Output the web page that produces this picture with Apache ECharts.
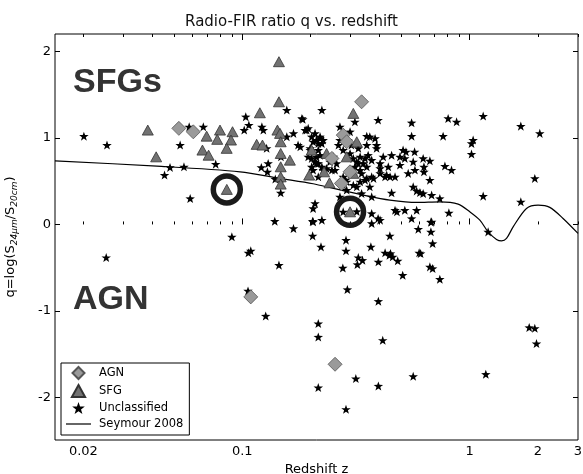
<!DOCTYPE html>
<html><head><meta charset="utf-8">
<script src="https://cdn.jsdelivr.net/npm/echarts@6/dist/echarts.min.js"></script>
<style>html,body{margin:0;padding:0;background:#fff}#c{width:583px;height:474px}</style>
</head><body><div id="c"></div>
<script>
// ---- data: [redshift z, q] ----
const unclassified = [
 [0.0201,1.02],[0.0254,0.917],[0.0584,1.128],[0.0674,1.128],[0.0533,0.917],[0.0554,0.666],[0.0481,0.659],[0.0455,0.57],[0.0764,0.697],[0.059,0.30],
 [0.1036,1.244],[0.1069,1.148],[0.102,1.09],[0.122,1.128],[0.1238,1.09],[0.128,0.879],[0.1213,0.659],[0.130,0.705],[0.129,0.608],[0.1397,0.524],
 [0.1476,0.532],[0.148,0.781],[0.1476,0.365],[0.157,1.321],[0.1846,1.214],[0.192,1.09],[0.176,0.917],[0.168,1.052],[0.157,1.013],[0.199,0.879],
 [0.139,0.038],[0.168,-0.046],[0.204,0.038],[0.205,0.185],[0.209,0.243],
 [0.183,1.225],[0.224,1.321],[0.209,1.052],[0.220,0.994],[0.205,0.955],[0.216,0.936],[0.227,0.975],
 [0.269,1.128],[0.298,1.071],[0.313,1.186],[0.396,1.206],[0.556,1.175],[0.805,1.225],[0.877,1.186],[1.148,1.252],[1.681,1.136],[2.037,1.052],
 [0.556,1.02],[0.765,1.02],[1.037,0.975],[1.02,0.936],[1.02,0.813],[0.779,0.674],[0.833,0.628],[1.148,0.327],[1.681,0.261],[1.937,0.532],
 [0.353,1.02],[0.384,0.994],[0.390,0.917],[0.390,0.879],[0.510,0.859],[0.525,0.839],[0.573,0.839],
 [0.454,0.80],[0.417,0.781],[0.371,0.743],[0.347,0.763],[0.494,0.781],[0.519,0.763],[0.625,0.763],[0.669,0.735],[0.565,0.724],[0.494,0.686],
 [0.537,0.59],[0.63,0.666],[0.63,0.608],[0.575,0.628],[0.439,0.666],[0.404,0.705],[0.404,0.647],[0.404,0.59],[0.353,0.666],[0.371,0.55],
 [0.378,0.532],[0.425,0.55],[0.470,0.55],[0.447,0.55],
 [0.669,0.512],[0.565,0.435],[0.585,0.388],[0.605,0.37],[0.625,0.358],[0.681,0.339],[0.740,0.30],[0.454,0.365],[0.364,0.435],[0.335,0.358],
 [0.371,0.319],[0.308,0.454],[0.319,0.435],[0.330,0.493],[0.353,0.532],[0.278,0.454],[0.288,0.397],[0.284,0.512],[0.269,0.319],
 [0.205,0.03],[0.224,0.05],[0.371,0.127],[0.371,0.012],[0.404,0.05],[0.396,0.069],[0.470,0.165],[0.479,0.146],[0.519,0.165],[0.585,0.165],
 [0.556,0.069],[0.681,0.03],[0.811,0.134],[0.278,0.146],[0.319,0.150],
 [0.189,1.09],[0.195,1.11],[0.202,1.013],[0.212,0.975],[0.220,1.013],[0.224,0.936],[0.180,0.897],[0.199,0.859],[0.216,0.859],[0.220,0.80],
 [0.202,0.763],[0.209,0.724],[0.212,0.705],[0.224,0.666],[0.205,0.628],[0.227,0.628],[0.235,0.647],[0.243,0.724],[0.248,0.628],[0.216,0.55],
 [0.202,0.666],[0.195,0.781],[0.269,0.975],[0.265,0.917],[0.278,0.859],[0.298,0.82],[0.308,0.763],[0.319,0.724],[0.330,0.781],[0.324,0.705],
 [0.313,0.666],[0.330,0.628],[0.335,0.59],[0.347,0.512],[0.278,0.55],[0.288,0.493],[0.260,0.705],[0.256,0.628],[0.252,0.781],[0.302,0.917],
 [0.292,0.975],[0.324,0.879],[0.353,0.917],[0.358,0.80],[0.341,0.705],[0.432,0.57],[0.364,1.013],[0.212,0.781],[0.216,0.705],
 [0.0252,-0.382],[0.090,-0.143],[0.1064,-0.328],[0.109,-0.305],[0.204,-0.132],[0.145,-0.47],[0.106,-0.768],[0.1268,-1.057],
 [0.216,-1.145],[0.216,-1.30],[0.216,-1.884],
 [0.222,-0.259],[0.286,-0.181],[0.286,-0.305],[0.277,-0.502],[0.324,-0.382],[0.338,-0.413],[0.321,-0.462],[0.368,-0.259],[0.397,-0.432],
 [0.425,-0.328],[0.449,-0.335],[0.459,-0.374],[0.444,-0.355],[0.446,-0.132],[0.483,-0.42],[0.508,-0.586],[0.595,-0.054],[0.60,-0.328],
 [0.609,-0.335],[0.676,0.027],[0.676,-0.085],[0.688,-0.22],[0.669,-0.49],[0.688,-0.509],[0.740,-0.632],[1.207,-0.086],[0.290,-0.751],
 [0.397,-0.887],[0.415,-1.338],[0.316,-1.78],[0.397,-1.866],[0.565,-1.754],[1.179,-1.73],[0.286,-2.135],[1.83,-1.19],[1.937,-1.20],[1.97,-1.376]
];
const sfg = [
 [0.0384,1.09],[0.0418,0.781],[0.0798,1.09],[0.0906,1.071],[0.0697,1.02],[0.0776,0.983],[0.0892,0.975],[0.0668,0.859],[0.0711,0.80],[0.0854,0.879],
 [0.1195,1.29],[0.145,1.88],[0.145,1.417],[0.1157,0.925],[0.1227,0.917],[0.1428,1.09],[0.1466,1.052],[0.1476,0.955],[0.1476,0.82],[0.1476,0.666],
 [0.1476,0.55],[0.1476,0.466],[0.162,0.743],[0.197,0.57],[0.202,0.859],[0.0855,0.405],[0.308,1.283],[0.319,0.955],[0.229,0.608],[0.242,0.481],
 [0.288,0.781],[0.308,0.59],[0.235,0.82],[0.298,0.146]
];
const agn = [
 [0.0526,1.11],[0.0609,1.07],[0.335,1.417],[0.278,1.032],[0.288,0.955],[0.248,0.763],[0.298,0.608],[0.273,0.474],[0.109,-0.837],[0.256,-1.615]
];
const seymour2008 = [
 [0.015,0.734],[0.0421,0.674],[0.0978,0.608],[0.1466,0.532],[0.205,0.47],[0.252,0.416],[0.353,0.33],[0.446,0.281],[0.585,0.254],[0.740,0.261],
 [0.891,0.235],[1.003,0.146],[1.110,0.05],[1.207,-0.086],[1.314,-0.173],[1.383,-0.19],[1.454,-0.162],[1.555,-0.028],[1.780,0.185],[2.002,0.223],
 [2.254,0.197],[2.579,0.069],[3.0,-0.104]
];
const highlighted = [[0.0855,0.405],[0.298,0.146]];
const xLabelValues = [0.02, 0.1, 1, 2, 3];
const xMajorTicks = [0.1, 1];
const xMinorTicks = [0.02,0.03,0.04,0.05,0.06,0.07,0.08,0.09,0.2,0.3,0.4,0.5,0.6,0.7,0.8,0.9,2,3];
const yTickValues = [-2, -1, 0, 1, 2];

const STAR = 'path://M0,-10L2.35,-3.24L9.51,-3.09L3.8,1.24L5.88,8.09L0,4L-5.88,8.09L-3.8,1.24L-9.51,-3.09L-2.35,-3.24Z';
const DIAMOND = 'path://M0,-6L6,0L0,6L-6,0Z';
const TRIANGLE = 'path://M0,-5L5.5,5L-5.5,5Z';
const LINEICON = 'path://M0,0L25,0L25,1.2L0,1.2Z';
const FONT = 'DejaVu Sans';

function xAx(pos, ticks, len, labels) {
  return {
    type: 'log', logBase: 10, min: 0.015, max: 3, position: pos,
    axisLine: {show: false},
    splitLine: {show: false}, minorTick: {show: false}, minorSplitLine: {show: false},
    axisTick: {show: true, inside: true, length: len, customValues: ticks, lineStyle: {color: '#000', width: 1}},
    axisLabel: labels ? {show: true, customValues: xLabelValues, margin: 5, color: '#000', fontSize: 13, fontFamily: FONT,
      formatter: v => String(+(+v).toPrecision(3))} : {show: false},
    name: labels ? 'Redshift z' : '', nameLocation: 'middle', nameGap: 17,
    nameTextStyle: {fontSize: 13, fontFamily: FONT, color: '#000'}
  };
}
function yAx(pos, labels) {
  return {
    type: 'value', min: -2.49, max: 2.2, position: pos,
    axisLine: {show: false}, splitLine: {show: false},
    axisTick: {show: true, inside: true, length: 5, customValues: yTickValues, lineStyle: {color: '#000'}},
    axisLabel: labels ? {show: true, customValues: yTickValues, margin: 4, color: '#000', fontSize: 13, fontFamily: FONT} : {show: false},
    name: labels ? '{n|q=log(S}{s|24μm}{n|/S}{s|20cm}{n|)}' : '',
    nameLocation: 'middle', nameRotate: 90, nameGap: 36,
    nameTextStyle: {rich: {
      n: {fontSize: 13, fontFamily: FONT, color: '#000', lineHeight: 16},
      s: {fontSize: 9, fontFamily: FONT, fontStyle: 'italic', color: '#000', lineHeight: 10, padding: [8, 0, 0, 0], verticalAlign: 'bottom'}
    }}
  };
}

const chart = echarts.init(document.getElementById('c'), null, {renderer: 'canvas'});
chart.setOption({
  animation: false,
  backgroundColor: '#fff',
  title: {text: 'Radio-FIR ratio q vs. redshift', left: 'center', top: 10,
    textStyle: {fontSize: 15, fontWeight: 'normal', fontFamily: FONT, color: '#111'}},
  grid: {left: 55, right: 5, top: 34, bottom: 34, show: true, borderColor: '#000', borderWidth: 1,
    backgroundColor: 'transparent', containLabel: false, outerBoundsMode: 'none'},
  xAxis: [xAx('bottom', xMajorTicks, 6, true), xAx('bottom', xMinorTicks, 3, false),
          xAx('top', xMajorTicks, 6, false), xAx('top', xMinorTicks, 3, false)],
  yAxis: [yAx('left', true), yAx('right', false)],
  legend: {
    orient: 'vertical', left: 61, top: 363,
    data: [{name: 'AGN', icon: DIAMOND}, {name: 'SFG', icon: TRIANGLE}, {name: 'Unclassified', icon: STAR}, {name: 'Seymour 2008', icon: LINEICON}],
    symbolKeepAspect: true,
    borderColor: '#000', borderWidth: 1, padding: [3, 6, 5, 5], itemGap: 4, itemWidth: 25, itemHeight: 12,
    textStyle: {fontSize: 11.5, fontFamily: FONT, color: '#000', padding: [0, 0, 0, 3]}, selectedMode: false
  },
  graphic: [
    {type: 'text', left: 73, top: 66, style: {text: 'SFGs', fontSize: 34, fontWeight: 'bold', fontFamily: 'Liberation Sans', fill: '#333'}},
    {type: 'text', left: 73, top: 283, style: {text: 'AGN', fontSize: 34, fontWeight: 'bold', fontFamily: 'Liberation Sans', fill: '#333'}}
  ],
  series: [
    {name: 'Seymour 2008', type: 'line', data: seymour2008, symbol: 'none', smooth: 0.3, z: 2,
      lineStyle: {color: '#000', width: 1.2}, itemStyle: {color: '#000'}},
    {name: 'Unclassified', type: 'scatter', data: unclassified, symbol: STAR, symbolSize: 9.5, symbolKeepAspect: true, z: 3,
      itemStyle: {color: '#000', opacity: 1}},
    {name: 'SFG', type: 'scatter', data: sfg, symbol: 'triangle', symbolSize: [11, 10], z: 4,
      itemStyle: {color: '#727272', borderColor: '#333', borderWidth: 0.8, opacity: 1}},
    {name: 'AGN', type: 'scatter', data: agn, symbol: 'diamond', symbolSize: 14, z: 5,
      itemStyle: {color: '#9a9a9a', borderColor: '#555', borderWidth: 0.8, opacity: 1}},
    {name: 'ring', type: 'scatter', data: highlighted, symbol: 'circle', symbolSize: 27, z: 6,
      itemStyle: {color: 'rgba(0,0,0,0)', borderColor: '#1a1a1a', borderWidth: 5.5, opacity: 1}}
  ]
});
</script></body></html>
